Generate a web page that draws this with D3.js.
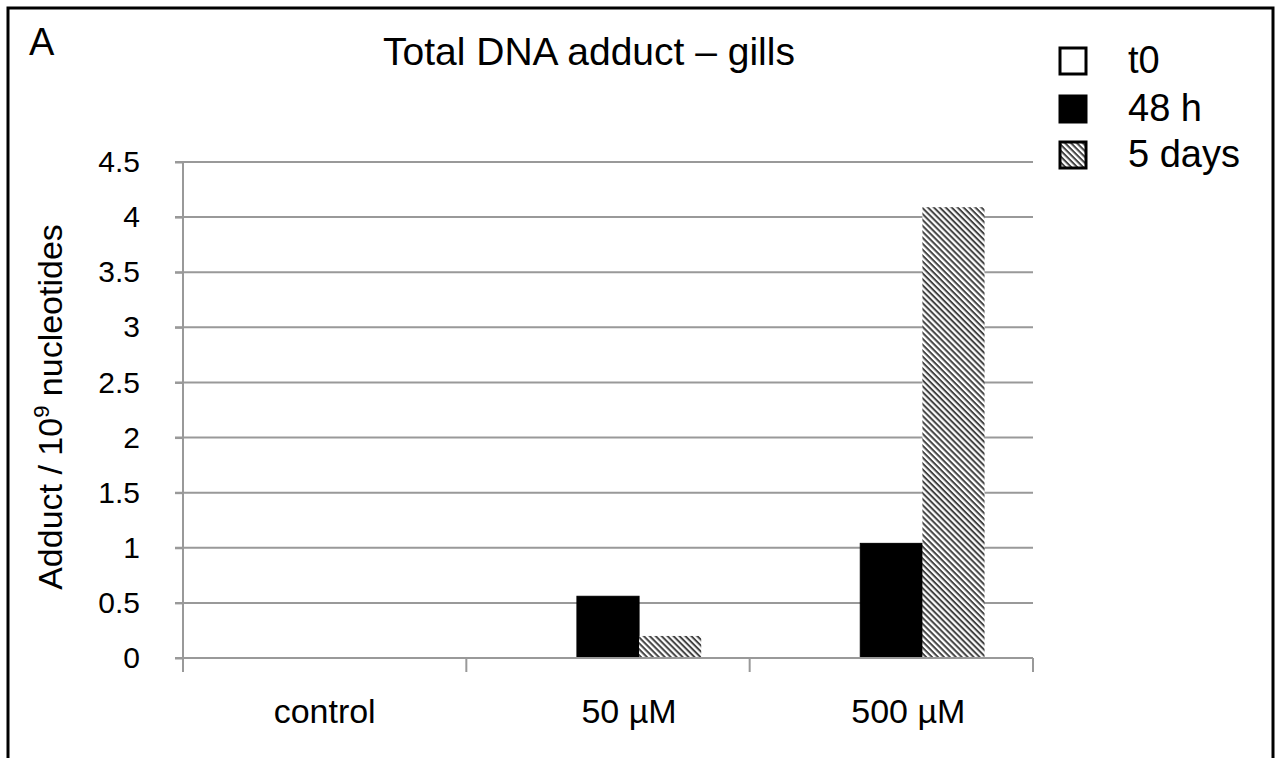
<!DOCTYPE html>
<html>
<head>
<meta charset="utf-8">
<script src="https://cdnjs.cloudflare.com/ajax/libs/d3/7.8.5/d3.min.js"></script>
<style>
  body { margin: 0; background: #fff; }
  text { font-family: "Liberation Sans", Arial, sans-serif; fill: #000; }
</style>
</head>
<body>
<svg width="1280" height="758"></svg>
<script>
var categories = ["control", "50 µM", "500 µM"];
var seriesNames = ["t0", "48 h", "5 days"];
var t0 = [0, 0, 0];
var h48 = [0, 0.56, 1.04];
var days5 = [0, 0.2, 4.09];
var yTicks = [0, 0.5, 1, 1.5, 2, 2.5, 3, 3.5, 4, 4.5];

var svg = d3.select("svg");
var margin = {top: 162, left: 183, right: 247, bottom: 100};
var width = 1280 - margin.left - margin.right;
var height = 758 - margin.top - margin.bottom;

// hatch pattern
var defs = svg.append("defs");
var pat = defs.append("pattern")
    .attr("id", "hatch")
    .attr("patternUnits", "userSpaceOnUse")
    .attr("width", 4.2).attr("height", 4.2)
    .attr("patternTransform", "rotate(45)");
pat.append("rect").attr("width", 4.2).attr("height", 4.2).attr("fill", "#fff");
pat.append("rect").attr("width", 4.2).attr("height", 2).attr("fill", "#444");

// outer frame (no bottom edge)
svg.append("path")
    .attr("d", "M8,758 V8 H1273 V758")
    .attr("fill", "none")
    .attr("stroke", "#000")
    .attr("stroke-width", 3);

var g = svg.append("g")
    .attr("transform", "translate(" + margin.left + "," + margin.top + ")");

var x = d3.scaleBand().domain(categories).range([0, width]);
var x1 = d3.scaleBand().domain(seriesNames).range([0, x.bandwidth()]).paddingOuter(0.78);
var y = d3.scaleLinear().domain([0, 4.5]).range([height, 0]);

// gridlines
g.selectAll(".grid")
    .data(yTicks.slice(1))
    .enter().append("line")
    .attr("x1", -8).attr("x2", width)
    .attr("y1", function(d) { return y(d); })
    .attr("y2", function(d) { return y(d); })
    .attr("stroke", "#999")
    .attr("stroke-width", 2);

// bars
var series = [t0, h48, days5];
var fills = ["#fff", "#000", "url(#hatch)"];
categories.forEach(function(c, i) {
    series.forEach(function(s, j) {
        if (s[i] <= 0) return;
        g.append("rect")
            .attr("x", x(c) + x1(seriesNames[j]))
            .attr("width", x1.bandwidth())
            .attr("y", y(s[i]))
            .attr("height", height - y(s[i]))
            .attr("fill", fills[j])
            .attr("stroke", j == 1 ? "#000" : "none");
    });
});

// y axis
var yAxis = g.append("g")
    .call(d3.axisLeft(y).tickValues(yTicks).tickSize(8).tickPadding(35)
        .tickFormat(function(d) { return d; }));
yAxis.select(".domain").attr("stroke", "#999").attr("stroke-width", 2).attr("d", "M0," + height + "V0");
yAxis.selectAll(".tick line").attr("stroke", "#999").attr("stroke-width", 2);
yAxis.selectAll("text").style("font-size", "30px").style("font-family", "Liberation Sans, Arial, sans-serif");

// x axis
var xAxisG = g.append("g").attr("transform", "translate(0," + height + ")");
xAxisG.append("line")
    .attr("x1", -8).attr("x2", width)
    .attr("stroke", "#999").attr("stroke-width", 2);
xAxisG.selectAll(".xtick")
    .data([0, 1, 2, 3])
    .enter().append("line")
    .attr("x1", function(d) { return d * x.step(); })
    .attr("x2", function(d) { return d * x.step(); })
    .attr("y1", 0).attr("y2", 14)
    .attr("stroke", "#999").attr("stroke-width", 2);
// labels in the original sit a bit right of the band centres
var labelShift = [0, 21, 17];
xAxisG.selectAll(".xlab")
    .data(categories)
    .enter().append("text")
    .attr("x", function(d, i) { return x(d) + x.bandwidth() / 2 + labelShift[i]; })
    .attr("y", 65)
    .attr("text-anchor", "middle")
    .style("font-size", "34px")
    .text(function(d) { return d; });

// y label
var yl = svg.append("text")
    .attr("transform", "translate(62,407) rotate(-90)")
    .attr("text-anchor", "middle")
    .style("font-size", "34px");
yl.append("tspan").text("Adduct / 10");
yl.append("tspan").attr("dy", -13).style("font-size", "22px").text("9");
yl.append("tspan").attr("dy", 13).text(" nucleotides");

// title and panel letter
svg.append("text").attr("x", 589).attr("y", 65).attr("text-anchor", "middle")
    .style("font-size", "39px").text("Total DNA adduct – gills");
svg.append("text").attr("x", 29).attr("y", 55).style("font-size", "38px").text("A");

// legend
var legend = svg.append("g").attr("transform", "translate(1060,0)");
var legY = [61, 109, 155];
seriesNames.forEach(function(n, i) {
    legend.append("rect")
        .attr("x", 0).attr("y", legY[i] - 13)
        .attr("width", 26).attr("height", 26)
        .attr("fill", fills[i])
        .attr("stroke", "#000").attr("stroke-width", 3);
    legend.append("text")
        .attr("x", 68).attr("y", legY[i] + 12)
        .style("font-size", "38px")
        .text(n);
});
</script>
</body>
</html>
